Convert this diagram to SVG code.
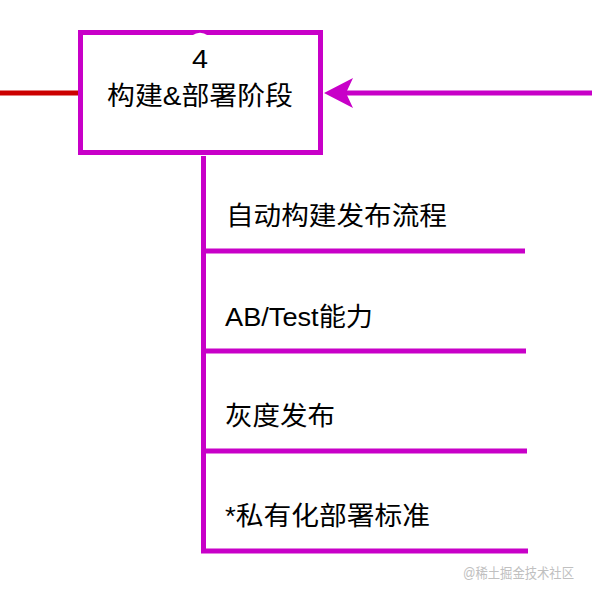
<svg xmlns="http://www.w3.org/2000/svg" width="592" height="598" viewBox="0 0 592 598">
<style>
.t{font-family:"Liberation Sans","Noto Sans CJK SC",sans-serif;fill:#000;font-size:26px}
.m{stroke:#c800c8;stroke-width:5;fill:none}
</style>
<defs>
<marker id="ah" markerUnits="userSpaceOnUse" markerWidth="32" markerHeight="32" viewBox="0 0 32 32" refX="9" refY="16" orient="auto">
<path d="M31,16 L2,1 L9,16 L2,31 Z" fill="#c800c8"/>
</marker>
</defs>
<rect width="592" height="598" fill="#fff"/>
<g id="connectors">
<line x1="0" y1="93" x2="78" y2="93" stroke="#cc0000" stroke-width="5"/>
<line x1="592" y1="93" x2="346" y2="93" class="m" marker-end="url(#ah)"/>
<polyline class="m" points="203.5,156 203.5,551 528,551"/>
<line class="m" x1="203.5" y1="251" x2="525" y2="251"/>
<line class="m" x1="203.5" y1="351" x2="526" y2="351"/>
<line class="m" x1="203.5" y1="451" x2="527" y2="451"/>
</g>
<g id="node-4">
<rect x="80.5" y="32.5" width="240" height="120" fill="#fff" class="m"/>
<path d="M192,35.5 Q200,30 208,35.5 Z" fill="#fff"/>
<text class="t" x="200" y="67.5" text-anchor="middle" font-size="20" textLength="16" lengthAdjust="spacingAndGlyphs">4</text>
<text class="t" x="200" y="105" text-anchor="middle" textLength="186" lengthAdjust="spacingAndGlyphs">构建&amp;部署阶段</text>
</g>
<g id="item-1"><text class="t" x="226" y="225" textLength="221" lengthAdjust="spacingAndGlyphs">自动构建发布流程</text></g>
<g id="item-2"><text class="t" x="225" y="326" textLength="148" lengthAdjust="spacingAndGlyphs">AB/Test能力</text></g>
<g id="item-3"><text class="t" x="225" y="425" textLength="110" lengthAdjust="spacingAndGlyphs">灰度发布</text></g>
<g id="item-4"><text class="t" x="225" y="525" textLength="205" lengthAdjust="spacingAndGlyphs">*私有化部署标准</text></g>
<text x="463" y="578" font-family="'Liberation Sans','Noto Sans CJK SC',sans-serif" font-size="14" fill="#c0c0c0" textLength="111" lengthAdjust="spacingAndGlyphs">@稀土掘金技术社区</text>
</svg>
